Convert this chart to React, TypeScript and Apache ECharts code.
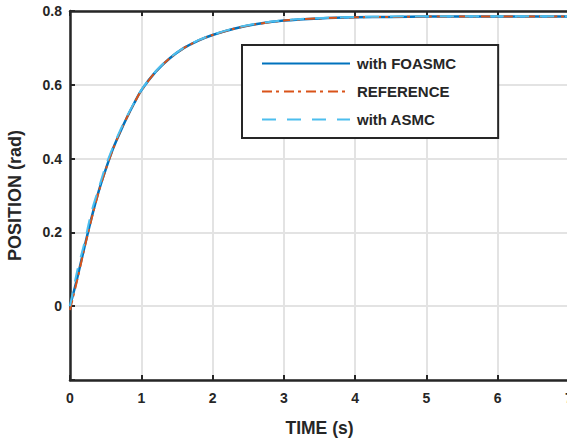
import React, { useEffect, useRef } from "react";
import * as echarts from "echarts";

const timeS = [0, 0.1, 0.2, 0.3, 0.4, 0.5, 0.6, 0.7, 0.8, 0.9, 1.0, 1.2, 1.4, 1.6, 1.8, 2.0, 2.3, 2.6, 3.0, 3.5, 4.0, 4.5, 5, 6, 7];
const foasmc = [0, 0.075, 0.158, 0.238, 0.31, 0.37, 0.425, 0.47, 0.512, 0.55, 0.585, 0.635, 0.672, 0.7, 0.72, 0.735, 0.752, 0.764, 0.774, 0.78, 0.783, 0.784, 0.785, 0.785, 0.785];
const reference = [-0.01, 0.07, 0.155, 0.235, 0.308, 0.37, 0.424, 0.471, 0.512, 0.55, 0.584, 0.635, 0.672, 0.7, 0.72, 0.735, 0.752, 0.764, 0.774, 0.78, 0.783, 0.784, 0.785, 0.785, 0.785];
const asmc = [0, 0.095, 0.17, 0.255, 0.318, 0.38, 0.43, 0.475, 0.515, 0.552, 0.586, 0.636, 0.673, 0.701, 0.721, 0.736, 0.753, 0.765, 0.775, 0.781, 0.784, 0.785, 0.786, 0.786, 0.786];

const seriesNames = ["with FOASMC", "REFERENCE", "with ASMC"];
const xTitle = "TIME (s)";
const yTitle = "POSITION (rad)";

const FONT = "'Liberation Sans', Arial, sans-serif";
const INK = "#262626";

export default function App() {
  const ref = useRef<HTMLDivElement>(null);
  useEffect(() => {
    if (!ref.current) return;
    const chart = echarts.init(ref.current, undefined, { renderer: "svg" });
    const pair = (ys: number[]) => timeS.map((t, i) => [t, ys[i]]);
    const axisCommon = {
      axisLine: { show: true, onZero: false, lineStyle: { color: INK, width: 2.5 } },
      axisTick: { show: true, inside: true, length: 5, lineStyle: { color: INK, width: 2 } },
    };
    chart.setOption({
      animation: false,
      backgroundColor: "#ffffff",
      textStyle: { fontFamily: FONT },
      grid: { left: 70, right: -2, top: 11, bottom: 62, containLabel: false, outerBoundsMode: "none" },
      legend: {
        orient: "vertical",
        left: 242,
        top: 45,
        data: seriesNames,
        padding: [11, 42, 11, 19],
        itemWidth: 88,
        itemHeight: 14,
        itemGap: 13,
        backgroundColor: "#ffffff",
        borderColor: INK,
        borderWidth: 2,
        borderRadius: 0,
        itemStyle: { opacity: 0 },
        textStyle: { fontFamily: FONT, fontWeight: "bold", fontSize: 15, color: INK, padding: [0, 0, 0, 2] },
      },
      xAxis: [
        {
          type: "value",
          min: 0,
          max: 7,
          interval: 1,
          position: "bottom",
          ...axisCommon,
          axisLabel: { color: INK, fontWeight: "bold", fontSize: 14, fontFamily: FONT, margin: 11 },
          splitLine: { show: true, lineStyle: { color: "#e3e3e3", width: 2 } },
          name: xTitle,
          nameLocation: "middle",
          nameGap: 39,
          nameTextStyle: { color: INK, fontWeight: "bold", fontSize: 17.5, fontFamily: FONT },
        },
        {
          type: "value",
          min: 0,
          max: 7,
          interval: 1,
          position: "top",
          ...axisCommon,
          axisLabel: { show: false },
          splitLine: { show: false },
        },
      ],
      yAxis: {
        type: "value",
        min: -0.2,
        max: 0.8,
        interval: 0.2,
        ...axisCommon,
        axisLabel: {
          color: INK,
          fontWeight: "bold",
          fontSize: 14,
          fontFamily: FONT,
          margin: 8,
          formatter: (v: number) => {
            if (v < -0.1) return "";
            if (Math.abs(v) < 1e-9) return "0";
            return v.toFixed(1);
          },
        },
        splitLine: { show: true, lineStyle: { color: "#e3e3e3", width: 2 } },
        name: yTitle,
        nameLocation: "middle",
        nameGap: 46,
        nameTextStyle: { color: INK, fontWeight: "bold", fontSize: 18, fontFamily: FONT },
      },
      series: [
        {
          name: seriesNames[0],
          type: "line",
          data: pair(foasmc),
          showSymbol: false,
          symbol: "none",
          smooth: 0.3,
          lineStyle: { color: "#0072BD", width: 2.5 },
          itemStyle: { color: "#0072BD" },
        },
        {
          name: seriesNames[1],
          type: "line",
          data: pair(reference),
          showSymbol: false,
          symbol: "none",
          smooth: 0.3,
          lineStyle: { color: "#D95319", width: 2, type: [10, 4, 3, 5] },
          itemStyle: { color: "#D95319" },
        },
        {
          name: seriesNames[2],
          type: "line",
          data: pair(asmc),
          showSymbol: false,
          symbol: "none",
          smooth: 0.3,
          lineStyle: { color: "#4DBEEE", width: 2, type: [14, 11] },
          itemStyle: { color: "#4DBEEE" },
        },
      ],
    });
    return () => chart.dispose();
  }, []);
  return (
    <div
      ref={ref}
      style={{ position: "absolute", left: 0, top: 0, width: 567, height: 442, overflow: "hidden" }}
    />
  );
}
